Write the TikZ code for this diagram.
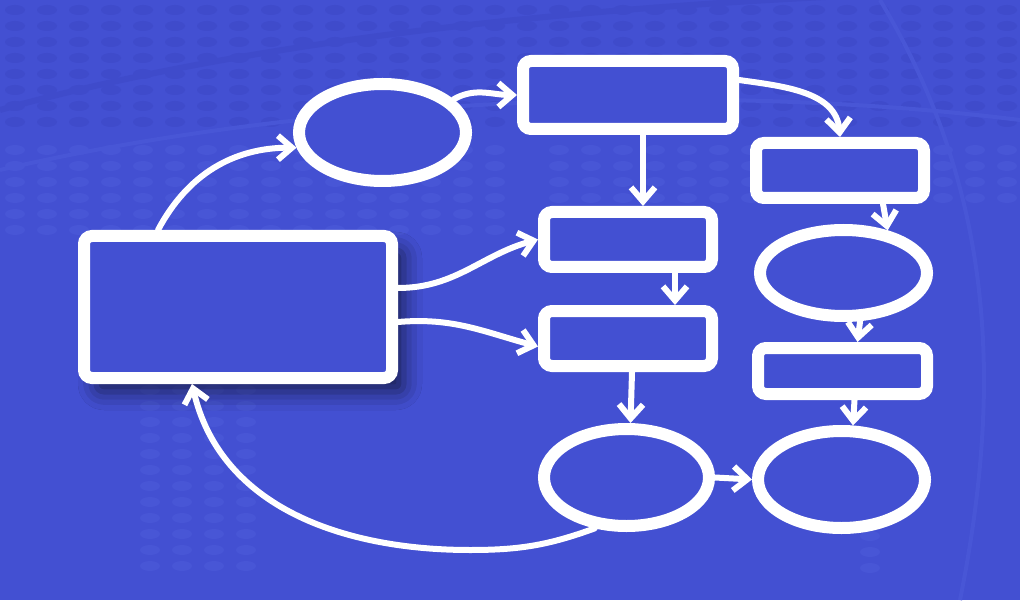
\documentclass[tikz,border=0pt]{standalone}
\usepackage{tikz}
\usetikzlibrary{arrows.meta,shapes.geometric,shadows.blur}
\definecolor{bgblue}{RGB}{67,80,210}
\definecolor{dotdark}{RGB}{63,75,203}
\definecolor{dotlight}{RGB}{72,86,214}

\begin{document}
\begin{tikzpicture}[x=0.5pt,y=0.5pt,
  box/.style={draw=white, line width=6pt, rectangle, rounded corners=4pt, fill=bgblue, inner sep=0pt},
  oval/.style={draw=white, line width=6pt, ellipse, fill=bgblue, inner sep=0pt},
  flow/.style={draw=white, line width=3pt, line cap=round, line join=round, -{Straight Barb[length=7pt,width=12pt]}}]
\useasboundingbox (0,0) rectangle (1020,600);
\fill[bgblue] (0,0) rectangle (1020,600);
% background dots and arcs
\foreach \y in {590,574,...,465} \foreach \x in {15,47,...,1020} \fill[dotdark] (\x,\y) ellipse (10 and 5);
\foreach \y in {450,434,...,365} \foreach \x in {15,47,...,520} \fill[dotlight] (\x,\y) ellipse (10 and 5);
\foreach \y in {450,434,...,400} \foreach \x in {559,591,...,1020} \fill[dotlight] (\x,\y) ellipse (10 and 5);
\foreach \y in {210,194,...,20} \foreach \x in {150,182,214,246} \fill[dotlight] (\x,\y) ellipse (10 and 5);
\foreach \y in {160,144,...,20} \fill[dotlight] (870,\y) ellipse (10 and 5);
\draw[dotdark, line width=3pt] (0,490) .. controls (250,560) and (600,600) .. (1020,610);
\draw[dotlight, line width=2pt] (0,430) .. controls (300,500) and (700,520) .. (1020,480);
\draw[dotlight, line width=2pt] (880,600) .. controls (1000,400) and (1000,200) .. (960,0);

\node[box, minimum width=154pt, minimum height=71pt,
  blur shadow={shadow xshift=6pt, shadow yshift=-7pt, shadow blur radius=9pt, shadow opacity=60}] (main) at (238,293) {};
\node[oval, minimum width=83.5pt, minimum height=48.5pt] (start) at (382.5,467.5) {};
\node[box, minimum width=105pt, minimum height=34pt] (collect) at (628,505) {};
\node[box, minimum width=84pt, minimum height=27.5pt] (r1) at (840,429.5) {};
\node[box, minimum width=84pt, minimum height=27.5pt] (mid1) at (628,360.5) {};
\node[box, minimum width=84pt, minimum height=27.5pt] (mid2) at (628,261.5) {};
\node[oval, minimum width=83.5pt, minimum height=43pt] (rell) at (843.5,327) {};
\node[box, minimum width=84.5pt, minimum height=23pt] (r2) at (842.5,229) {};
\node[oval, minimum width=82.5pt, minimum height=48.5pt] (bot) at (626.5,122.5) {};
\node[oval, minimum width=83.5pt, minimum height=48.5pt] (br) at (841.5,120.5) {};

\draw[flow] ([xshift=-40pt]main.north) to[out=62,in=180] (start.190);
\draw[flow] (start.25) to[out=30,in=180] (collect.west);
\draw[flow] ([yshift=7.5pt]collect.east) to[out=-8,in=95] (r1.north);
\draw[flow] ([xshift=7.5pt]collect.south) -- ([xshift=7.5pt]mid1.north);
\draw[flow] ([yshift=9.5pt]main.east) to[out=0,in=195] (mid1.west);
\draw[flow] ([yshift=-7.5pt]main.east) to[out=5,in=165] ([yshift=-4pt]mid2.west);
\draw[flow] ([xshift=23.5pt]mid1.south) -- ([xshift=23.5pt]mid2.north);
\draw[flow] ([xshift=2pt]mid2.south) -- ([xshift=2pt]bot.north);
\draw[flow] (bot.east) -- (br.west);
\draw[flow] ([xshift=21.5pt]r1.south) -- (rell.44);
\draw[flow] (rell.-71) -- ([xshift=7.5pt]r2.north);
\draw[flow] ([xshift=6pt]r2.south) -- (br.78);
\coordinate (loop) at (470,50);
\draw[flow] (bot.238) to[out=200,in=0] (loop) to[out=180,in=-77] ([xshift=-23pt]main.south);
\end{tikzpicture}
\end{document}
